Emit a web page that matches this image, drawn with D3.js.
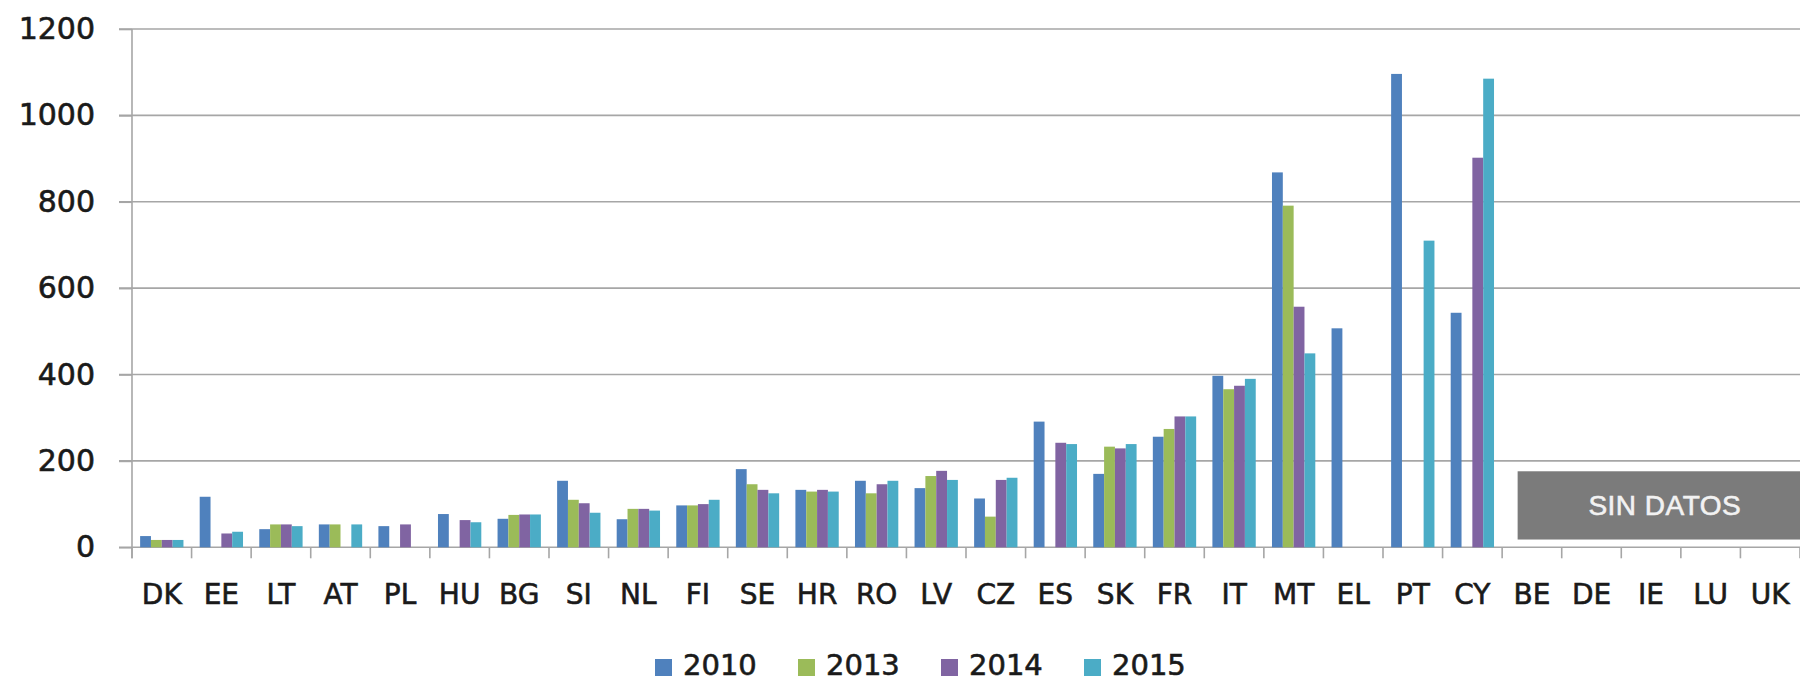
<!DOCTYPE html>
<html>
<head>
<meta charset="utf-8">
<script src="https://cdn.jsdelivr.net/npm/d3@7"></script>
<style>
  html, body { margin: 0; padding: 0; background: #ffffff; }
  svg { display: block; }
</style>
</head>
<body>
<svg id="chart" width="1800" height="682"></svg>
<script>
const categories = ["DK","EE","LT","AT","PL","HU","BG","SI","NL","FI","SE","HR","RO","LV","CZ","ES","SK","FR","IT","MT","EL","PT","CY","BE","DE","IE","LU","UK"];
const years = ["2010","2013","2014","2015"];
const values2010 = [26,117,42,53,49,77,66,154,65,97,181,133,154,137,113,291,170,256,397,868,507,1096,543,null,null,null,null,null];
const values2013 = [17,null,53,53,null,null,75,110,89,97,146,129,125,165,71,null,233,274,366,791,null,null,null,null,null,null,null,null];
const values2014 = [17,32,53,null,53,63,76,102,89,100,133,133,146,177,156,242,229,303,374,557,null,null,902,null,null,null,null,null];
const values2015 = [17,36,49,53,null,58,76,80,85,110,125,129,154,156,161,239,239,303,390,449,null,710,1085,null,null,null,null,null];
const yTicks = [0,200,400,600,800,1000,1200];
const noDataLabel = "SIN DATOS";
const noDataCategories = ["BE","DE","IE","LU","UK"];

const seriesValues = [values2010, values2013, values2014, values2015];
const colors = ["#4f81bd","#9bbb59","#8064a2","#4bacc6"];

const svg = d3.select("#chart");
const plotLeft = 132, plotRight = 1800, plotTop = 29, plotBottom = 547.3;

const x0 = d3.scaleBand().domain(categories).range([plotLeft, plotRight]).paddingInner(0).paddingOuter(0);
const x1 = d3.scaleBand().domain(years).range([0, x0.bandwidth()]).paddingInner(0).paddingOuter(0.75);
const y = d3.scaleLinear().domain([0, 1200]).range([plotBottom, plotTop]);
const color = d3.scaleOrdinal().domain(years).range(colors);

// gridlines
svg.append("g").selectAll("line").data(yTicks).join("line")
  .attr("x1", plotLeft - 13).attr("x2", plotRight)
  .attr("y1", d => y(d)).attr("y2", d => y(d))
  .attr("stroke", "#a6a6a6").attr("stroke-width", 1.6);

// y axis
const yAxis = svg.append("g").attr("transform", `translate(${plotLeft},0)`)
  .call(d3.axisLeft(y).tickValues(yTicks).tickSize(13).tickPadding(24).tickFormat(d3.format("d")));
yAxis.select(".domain").remove();
yAxis.selectAll(".tick line").attr("stroke", "#a6a6a6").attr("stroke-width", 1.6);
yAxis.selectAll("text").attr("font-family", "DejaVu Sans").attr("font-size", 30).attr("fill", "#1a1a1a")
  .attr("stroke", "#1a1a1a").attr("stroke-width", 0.6);
svg.append("line").attr("x1", plotLeft).attr("x2", plotLeft).attr("y1", plotTop).attr("y2", plotBottom + 11)
  .attr("stroke", "#a6a6a6").attr("stroke-width", 1.6);

// no-data box
const ndStart = x0(noDataCategories[0]) + x0.bandwidth() * 0.26;
svg.append("rect").attr("x", ndStart).attr("y", y(176)).attr("width", plotRight - ndStart).attr("height", y(18) - y(176))
  .attr("fill", "#7b7b7b");
svg.append("text").attr("x", (ndStart + plotRight) / 2 + 6).attr("y", y(75))
  .attr("text-anchor", "middle").attr("font-family", "Liberation Sans").attr("font-size", 28)
  .attr("letter-spacing", 0.5).attr("fill", "#f2f2f2").attr("stroke", "#f2f2f2").attr("stroke-width", 0.6)
  .text(noDataLabel);

// bars
const rows = [];
categories.forEach((c, i) => {
  years.forEach((yr, j) => {
    const v = seriesValues[j][i];
    if (v != null) rows.push({ cat: c, year: yr, value: v });
  });
});
svg.append("g").selectAll("rect").data(rows).join("rect")
  .attr("x", d => x0(d.cat) + x1(d.year))
  .attr("y", d => y(d.value))
  .attr("width", x1.bandwidth())
  .attr("height", d => y(0) - y(d.value))
  .attr("fill", d => color(d.year));

// x axis ticks at category boundaries
const bounds = categories.map(c => x0(c)).concat([plotRight]);
svg.append("g").selectAll("line").data(bounds).join("line")
  .attr("x1", d => d).attr("x2", d => d).attr("y1", plotBottom).attr("y2", plotBottom + 11)
  .attr("stroke", "#a6a6a6").attr("stroke-width", 1.6);

// x labels
const xAxis = svg.append("g").attr("transform", `translate(0,${plotBottom})`)
  .call(d3.axisBottom(x0).tickSize(0).tickPadding(0));
xAxis.select(".domain").remove();
xAxis.selectAll("text").attr("font-family", "DejaVu Sans").attr("font-size", 28).attr("fill", "#1a1a1a")
  .attr("stroke", "#1a1a1a").attr("stroke-width", 0.6)
  .attr("dy", null).attr("y", 57);

// legend
const legend = svg.append("g");
const item = legend.selectAll("g").data(years).join("g")
  .attr("transform", (d, i) => `translate(${655 + i * 143},0)`);
item.append("rect").attr("x", 0).attr("y", 659).attr("width", 17).attr("height", 17).attr("fill", d => color(d));
item.append("text").attr("x", 28).attr("y", 675).attr("font-family", "DejaVu Sans").attr("font-size", 29)
  .attr("fill", "#1a1a1a").attr("stroke", "#1a1a1a").attr("stroke-width", 0.6).text(d => d);
</script>
</body>
</html>
